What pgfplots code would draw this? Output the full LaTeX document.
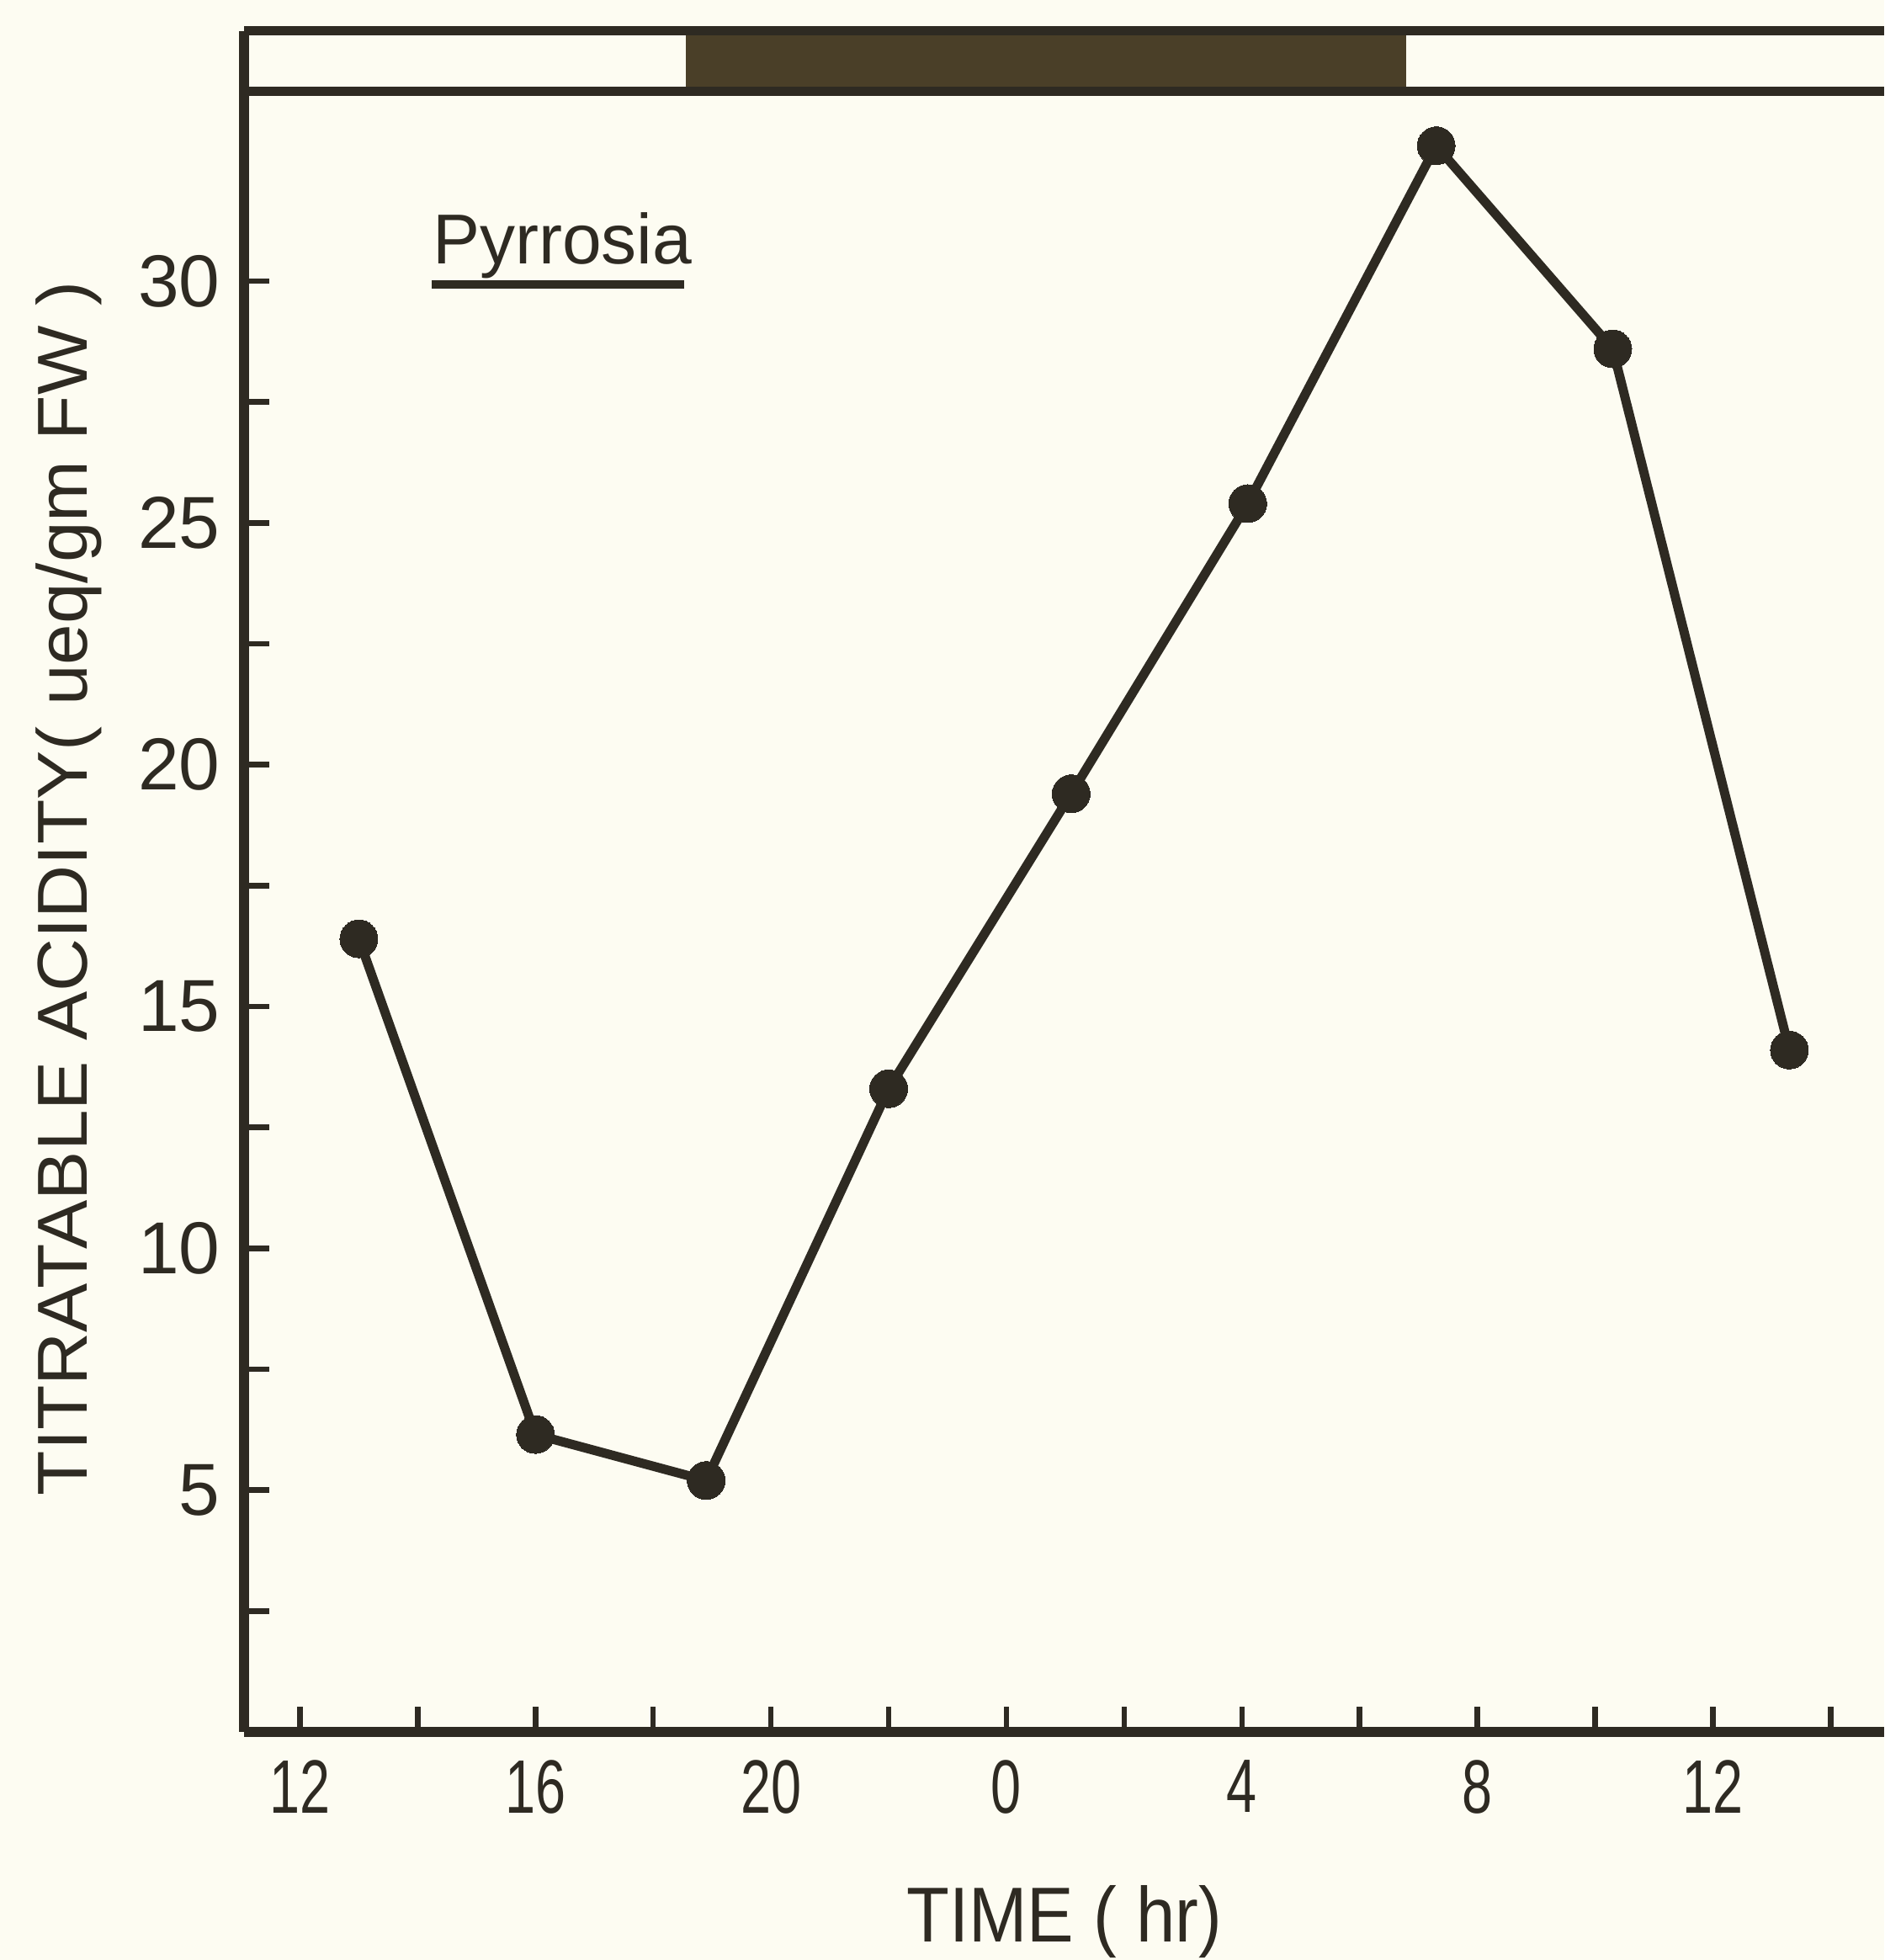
\documentclass[border=0pt]{standalone}
\usepackage{fontspec}
\setmainfont{Liberation Sans}
\usepackage{graphicx}
\usepackage{pgfplots}
\pgfplotsset{compat=1.18}
\definecolor{bg}{HTML}{FDFCF2}
\definecolor{ink}{HTML}{2E2A22}
\definecolor{barc}{HTML}{4A3F28}
\newcommand{\xt}[1]{\scalebox{0.72}[1]{#1}}
\begin{document}
\begin{tikzpicture}
\fill[bg] (0,0) rectangle (447.8pt,465.8pt);
\begin{axis}[
  at={(58pt,54.2pt)}, anchor=south west,
  scale only axis, width=389.8pt, height=404.2pt,
  xmin=11.05, xmax=38.91, ymin=0, ymax=35.17,
  axis lines*=left,
  axis line style={line width=2.4pt, color=ink},
  clip=false,
  /pgf/number format/assume math mode=true,
  tick align=inside,
  major tick length=6pt, minor tick length=6pt,
  tick style={line width=1.3pt, color=ink},
  xtick={12,16,20,24,28,32,36},
  xticklabels={\xt{12},\xt{16},\xt{20},\xt{0},\xt{4},\xt{8},\xt{12}},
  minor xtick={14,18,22,26,30,34,38},
  ytick={5,10,15,20,25,30},
  minor ytick={2.5,7.5,12.5,17.5,22.5,27.5},
  xticklabel style={font=\fontsize{18}{18}\selectfont, text=ink, anchor=north, inner sep=0pt, yshift=-6.5pt},
  yticklabel style={font=\fontsize{17.5}{17.5}\selectfont, text=ink, anchor=east, inner sep=0pt, xshift=-5.5pt},
  xlabel={\scalebox{0.9}[1]{TIME ( hr)}},
  xlabel style={font=\fontsize{18.5}{18.5}\selectfont, text=ink, at={(axis description cs:0.5,-0.1116)}, anchor=center, inner sep=0pt},
  ylabel={\scalebox{1.04}[1]{TITRATABLE ACIDITY( ueq/gm FW )}},
  ylabel style={font=\fontsize{16.8}{16.8}\selectfont, text=ink, at={(axis description cs:-0.1067,0.496)}, anchor=center, inner sep=0pt},
]
\fill[barc] (axis cs:18.55,33.93) rectangle (axis cs:30.79,35.17);
\draw[ink, line width=2.2pt] (axis cs:11.05,33.93) -- (axis cs:38.91,33.93);
\draw[ink, line width=2.2pt] (axis cs:11.05,35.17) -- (axis cs:38.91,35.17);
\addplot[ink, line width=2.2pt, mark=*, mark size=4.5pt, mark options={fill=ink, draw=ink, line width=0pt}]
  coordinates {(13.0,16.4) (16.0,6.15) (18.9,5.2) (22.0,13.3) (25.1,19.4) (28.1,25.4) (31.3,32.8) (34.3,28.6) (37.3,14.1)};
\node[anchor=base west, inner sep=0pt, text=ink, font=\fontsize{16.8}{16.8}\selectfont] at (axis cs:14.24,30.36) {Pyrrosia};
\draw[ink, line width=2pt] (axis cs:14.24,29.93) -- (axis cs:18.53,29.93);
\end{axis}
\pgfresetboundingbox
\path (0,0) rectangle (447.8pt,465.8pt);
\end{tikzpicture}
\end{document}
